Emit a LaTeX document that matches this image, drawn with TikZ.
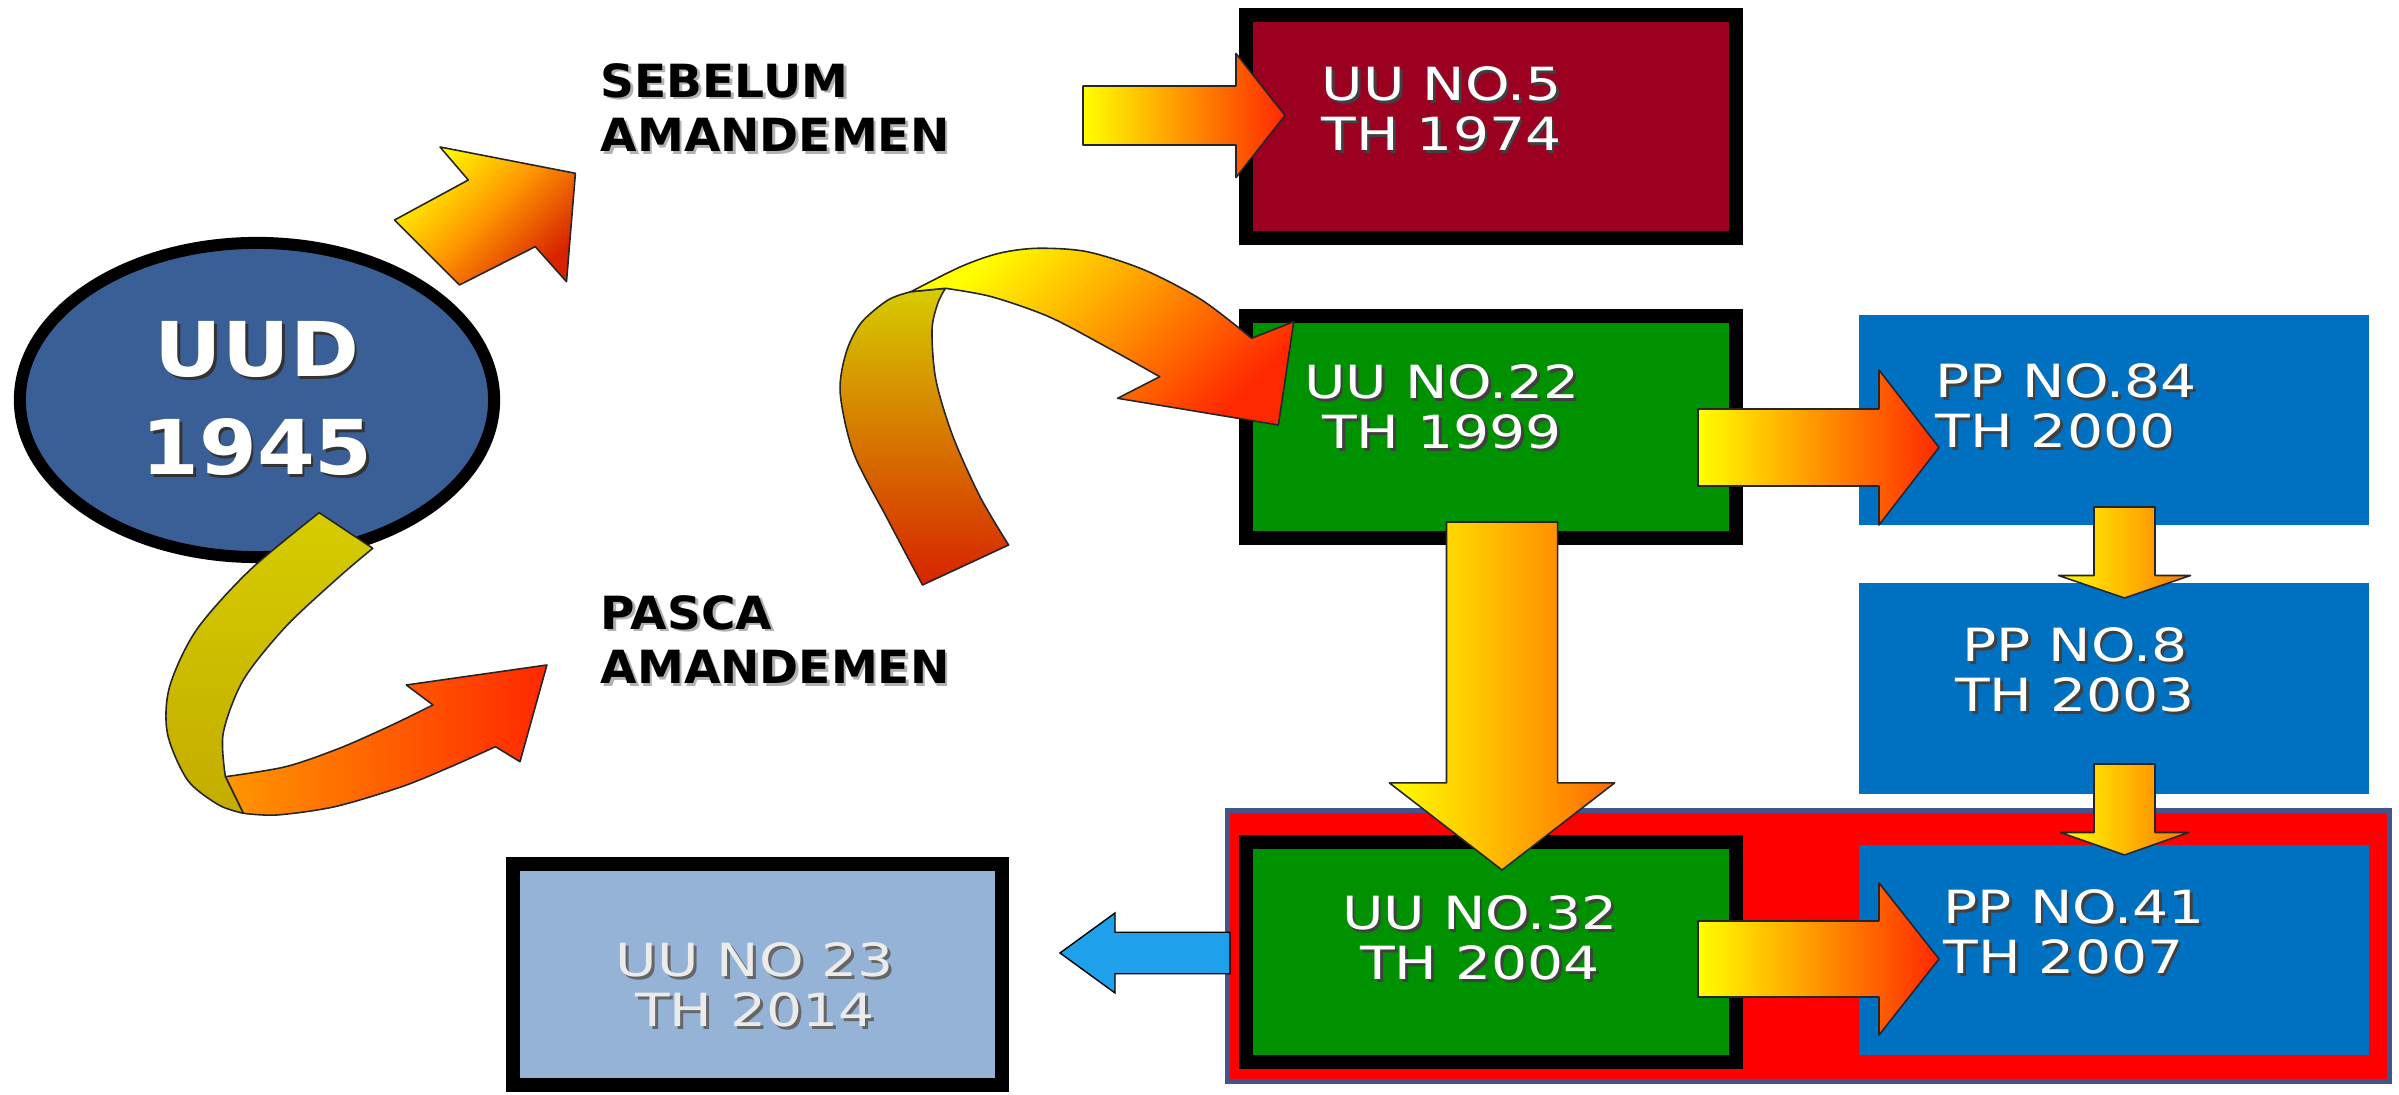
\documentclass[tikz,border=0pt]{standalone}
\usepackage{fontspec}
\setmainfont{DejaVu Sans}
\newfontfamily\boxfont[FakeStretch=1.24]{DejaVu Sans}
\newfontfamily\labelfont[FakeStretch=1.03]{DejaVu Sans}
\newfontfamily\titlefont[FakeStretch=1.1]{DejaVu Sans}
\usetikzlibrary{calc,shapes.geometric}

\definecolor{uudblue}{RGB}{58,95,150}
\definecolor{uured}{RGB}{155,0,32}
\definecolor{uugreen}{RGB}{0,145,0}
\definecolor{ppblue}{RGB}{0,112,192}
\definecolor{uulight}{RGB}{149,179,215}
\definecolor{grpline}{RGB}{65,85,140}
\definecolor{backblue}{RGB}{30,160,235}
\definecolor{ayellow}{RGB}{255,255,0}
\definecolor{aorange}{RGB}{255,150,0}
\definecolor{ared}{RGB}{255,40,0}
\definecolor{adeep}{RGB}{215,35,0}
\definecolor{olivea}{RGB}{214,204,0}
\definecolor{oliveb}{RGB}{195,172,0}

\newcommand\shd[2][black!75]{\rlap{\kern0.8pt\raisebox{-0.8pt}{\textcolor{#1}{#2}}}#2}
% block arrow: [style]{tail}{tip}{half shaft}{half head}{head length}
\newcommand\blockarrow[6][]{%
	\coordinate (ba-b) at ($(#3)!#6!(#2)$);
	\draw[#1] ($(#2)!#4!90:(#3)$) -- ($(ba-b)!#4!-90:(#2)$) -- ($(ba-b)!#5!-90:(#2)$) -- (#3)
		-- ($(ba-b)!#5!90:(#2)$) -- ($(ba-b)!#4!90:(#2)$) -- ($(#2)!#4!-90:(#3)$) -- cycle;}

\begin{document}
\begin{tikzpicture}[x=0.01cm, y=-0.01cm,
		uubox/.style={draw=black, line width=0.14cm, minimum width=4.9cm, inner sep=0pt},
		ppbox/.style={fill=ppblue, minimum width=5.1cm, minimum height=2.1cm, inner sep=0pt},
		boxtext/.style={text=white, font=\boxfont\fontsize{13}{14.2}\selectfont, align=center, inner sep=0pt},
		labeltext/.style={text=black, font=\labelfont\bfseries\fontsize{13}{15.6}\selectfont, align=left, inner sep=0pt, anchor=west},
		ribbon/.style={draw=black!85, line width=0.45pt, line join=round},
		blockarrow/.style={draw=black!85, line width=0.45pt, line join=round, left color=ayellow, right color=ared},
		backarrow/.style={fill=backblue}]
		%%%%% START %%%%%
		
		\fill[white] (0,0) rectangle (2399,1095);
		\useasboundingbox (0,0) rectangle (2399,1095);
		
		\node[ellipse, draw=black, line width=0.12cm, fill=uudblue, minimum width=4.74cm, minimum height=3.14cm,
			inner sep=0pt, text=white, font=\titlefont\bfseries\fontsize{21.5}{28}\selectfont, align=center]
			(uud) at (257,400) {\shd[black!80]{UUD}\\\shd[black!80]{1945}};
		
		% arrow up to SEBELUM
		\draw[ribbon, top color=ayellow, bottom color=adeep, middle color=aorange, shading angle=45]
			(459.4,285) -- (394.6,220) -- (468.3,180) -- (440,147) -- (575.4,173.3) -- (566.5,281.7) -- (535.3,246.7) -- cycle;
		
		% ribbon down to PASCA
		\draw[ribbon, left color=aorange, right color=ared]
			plot[smooth] coordinates {(243.3,813.3) (276.8,815) (334.8,806.7) (401.8,786.7) (450.9,766.7) (495.5,746.7)}
			-- (520,761.7) -- (546.9,665) -- (406.3,685)
			-- plot[smooth] coordinates {(433,705) (388.4,726.7) (339.3,748.3) (285.7,766.7) (225.4,776.7)} -- cycle;
		\draw[ribbon, top color=olivea, bottom color=oliveb]
			plot[smooth] coordinates {(319.2,512.7) (250,570) (196.4,630) (169.6,686.7) (167.4,733.3) (187.5,780) (218.8,805) (243.3,813.3)}
			-- plot[smooth] coordinates {(225.4,776.7) (223.2,733.3) (243.3,680) (285.7,626.7) (339.3,576.7) (372.8,548.3)} -- cycle;
		
		\node[labeltext] (sebelum) at (600,109) {\shd[black!30]{SEBELUM}\\\shd[black!30]{AMANDEMEN}};
		\node[labeltext] (pasca) at (600,641) {\shd[black!30]{PASCA}\\\shd[black!30]{AMANDEMEN}};
		
		% boxes
		\node[uubox, fill=uured, minimum height=2.23cm] (uu5) at (1491,126.5) {};
		\node[uubox, fill=uugreen, minimum height=2.22cm] (uu22) at (1491,427) {};
		\node[ppbox] (pp84) at (2114,420) {};
		\node[ppbox] (pp8) at (2114,688.5) {};
		\node[fill=red, draw=grpline, line width=0.05cm, minimum width=11.61cm, minimum height=2.7cm, inner sep=0pt] (grp) at (1808.5,946) {};
		\node[uubox, fill=uugreen, minimum height=2.2cm] (uu32) at (1491,952) {};
		\node[ppbox] (pp41) at (2114,950) {};
		\node[uubox, fill=uulight, minimum width=4.89cm, minimum height=2.21cm] (uu23) at (757.5,974.5) {};
		
		% ribbon over to UU NO.22
		\draw[ribbon, top color=olivea, bottom color=adeep]
			plot[smooth] coordinates {(922.5,585) (888,520) (853.6,453) (840.2,393) (846,353) (861,323) (888,300) (911,291.7)}
			-- plot[smooth] coordinates {(945.4,288.3) (937.8,303.3) (932,330) (935.9,380) (953,436.7) (980,496.7) (1008.6,545)} -- cycle;
		\draw[ribbon, top color=ayellow, bottom color=ared, middle color=aorange, shading angle=45]
			plot[smooth] coordinates {(911,291.7) (960.7,266.7) (999,253.3) (1037.3,248.3) (1087,251.7) (1144.4,270) (1201.8,300) (1251.6,338.3)}
			-- (1293.7,321.7) -- (1278.4,425) -- (1117.6,398.3)
			-- plot[smooth] coordinates {(1159.7,376.7) (1106,346.7) (1048.8,316.7) (991.4,296.7) (945.4,288.3)} -- cycle;
		
		% arrows
		\coordinate (a5s) at (1083,115.5);
		\coordinate (a5e) at (1285,115.5);
		\coordinate (a84s) at (1698,447.5);
		\coordinate (a84e) at (1939,447.5);
		\coordinate (a32s) at (1502,522);
		\coordinate (a32e) at (1502,870);
		\coordinate (a8s) at (2124.5,507);
		\coordinate (a8e) at (2124.5,598);
		\coordinate (a41s) at (2124.5,764);
		\coordinate (a41e) at (2124.5,855);
		\coordinate (a4s) at (1698,959);
		\coordinate (a4e) at (1939,959);
		\coordinate (a23s) at (1230,953);
		\coordinate (a23e) at (1060,953);
		
		\blockarrow[blockarrow]{a5s}{a5e}{0.295cm}{0.62cm}{0.49cm}
		\blockarrow[blockarrow]{a84s}{a84e}{0.385cm}{0.775cm}{0.6cm}
		\blockarrow[blockarrow, right color=aorange!60!ared]{a32s}{a32e}{0.555cm}{1.125cm}{0.87cm}
		\blockarrow[blockarrow, right color=aorange!70!ared]{a8s}{a8e}{0.305cm}{0.66cm}{0.225cm}
		\blockarrow[blockarrow, right color=aorange!70!ared]{a41s}{a41e}{0.305cm}{0.64cm}{0.225cm}
		\blockarrow[blockarrow]{a4s}{a4e}{0.38cm}{0.76cm}{0.6cm}
		\blockarrow[backarrow]{a23s}{a23e}{0.207cm}{0.4cm}{0.55cm}
		
		% box texts
		\node[boxtext, align=left, anchor=west] (t5) at (1321,110) {\shd{UU NO.5}\\\shd{TH 1974}};
		\node[boxtext] (t22) at (1442,408) {\shd{UU NO.22}\\\shd{TH 1999}};
		\node[boxtext, align=left, anchor=west] (t84) at (1935,407) {\shd{PP NO.84}\\\shd{TH 2000}};
		\node[boxtext] (t8) at (2075,671) {\shd{PP NO.8}\\\shd{TH 2003}};
		\node[boxtext] (t32) at (1480,939) {\shd{UU NO.32}\\\shd{TH 2004}};
		\node[boxtext, align=left, anchor=west] (t41) at (1943,933) {\shd{PP NO.41}\\\shd{TH 2007}};
		\node[boxtext, text=white!92!black] (t23) at (755,986) {\shd[black!60]{UU NO 23}\\\shd[black!60]{TH 2014}};
		
		%%%%% END %%%%%
\end{tikzpicture}
\end{document}
